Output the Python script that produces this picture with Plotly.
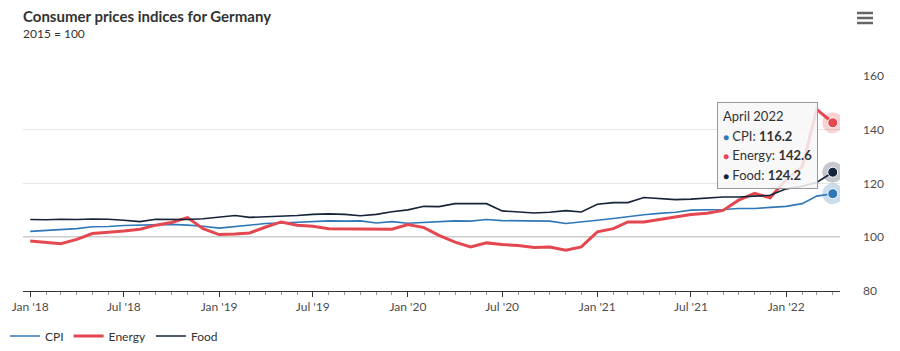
import pandas as pd
import plotly.graph_objects as go

# ---- data (2015 = 100), monthly Jan 2018 .. Apr 2022 ----
months = pd.date_range("2018-01-01", "2022-04-01", freq="MS")

cpi = [
    102.2, 102.5, 103.0, 103.2, 103.9, 104.0, 104.4, 104.5, 104.6, 104.8, 104.5, 104.1,
    103.4, 103.9, 104.4, 105.1, 105.3, 105.5, 105.9, 106.1, 106.0, 106.1, 105.3, 105.8,
    105.2, 105.6, 105.7, 106.1, 106.0, 106.6, 106.2, 106.1, 106.0, 106.0, 105.1, 105.6,
    106.3, 107.0, 107.7, 108.4, 108.9, 109.3, 110.1, 110.2, 110.3, 110.7, 110.7, 111.1,
    111.5, 112.5, 115.3, 116.2,
]
energy = [
    98.6, 98.2, 97.6, 99.2, 101.4, 101.9, 102.3, 103.0, 104.5, 105.5, 107.3, 103.2,
    101.0, 101.2, 101.6, 103.8, 105.7, 104.5, 104.1, 103.2, 103.2, 103.1, 103.1, 103.0,
    104.7, 103.6, 100.7, 98.2, 96.4, 97.9, 97.3, 96.9, 96.2, 96.4, 95.2, 96.4,
    102.0, 103.2, 105.7, 105.7, 106.6, 107.5, 108.5, 108.9, 110.0, 113.8, 116.3, 114.7,
    121.5, 126.2, 147.6, 142.6,
]
food = [
    106.6, 106.5, 106.7, 106.6, 106.8, 106.7, 106.3, 105.8, 106.7, 106.6, 106.6, 106.9,
    107.6, 108.1, 107.4, 107.6, 107.8, 108.1, 108.5, 108.7, 108.5, 108.0, 108.5, 109.5,
    110.2, 111.5, 111.4, 112.5, 112.5, 112.5, 109.8, 109.4, 109.0, 109.3, 109.9, 109.4,
    112.3, 112.9, 112.9, 114.8, 114.4, 114.0, 114.2, 114.5, 115.0, 115.0, 115.2, 115.6,
    118.0, 119.0, 120.4, 124.2,
]

series_names = ["CPI", "Energy", "Food"]
series_values = [cpi, energy, food]
series_colors = ["#2f78b7", "#e4474f", "#16243a"]
series_widths = [1.6, 3, 1.6]

y_ticks = [80, 100, 120, 140, 160]

FONT = "Lato, 'Open Sans', sans-serif"

fig = go.Figure()

for name, vals, col, w in zip(series_names, series_values, series_colors, series_widths):
    fig.add_trace(go.Scatter(
        x=months, y=vals, mode="lines", name=name,
        line=dict(color=col, width=w),
        hoverinfo="skip",
    ))

# hover halos on last point
for name, vals, col in zip(series_names, series_values, series_colors):
    fig.add_trace(go.Scatter(
        x=[months[-1]], y=[vals[-1]], mode="markers", showlegend=False,
        marker=dict(size=21, color=col, opacity=0.25, line=dict(width=0)),
        hoverinfo="skip",
    ))
    fig.add_trace(go.Scatter(
        x=[months[-1]], y=[vals[-1]], mode="markers", showlegend=False,
        marker=dict(size=10, color=col, line=dict(width=1, color="#ffffff")),
        hoverinfo="skip",
    ))

# reference line at 100
fig.add_shape(type="line", xref="paper", yref="y", x0=0, x1=1, y0=100, y1=100,
              line=dict(color="#333333", width=1), layer="below")

# tooltip
last_label = months[-1].strftime("%B %Y")
tip_lines = [f"<span style='font-size:13px'>{last_label}</span>"]
for name, vals, col in zip(series_names, series_values, series_colors):
    tip_lines.append(
        f"<span style='color:{col};font-size:10px'>●</span>"
        f"<span style='font-size:13px'> {name}: <b>{vals[-1]:.1f}</b></span>"
    )
fig.add_annotation(
    xref="paper", yref="paper",
    x=(818 - 23) / 817, y=(291 - 102) / 215,
    xanchor="right", yanchor="top",
    text="<br>".join(tip_lines), align="left", showarrow=False,
    font=dict(family=FONT, size=15, color="#333333"),
    bgcolor="rgba(247,247,247,0.85)", bordercolor="#999999", borderwidth=1,
    borderpad=5,
)

# subtitle
fig.add_annotation(
    xref="paper", yref="paper", x=-0.002, y=(291 - 34) / 215,
    xanchor="left", yanchor="middle", showarrow=False,
    text="2015 = 100", font=dict(family=FONT, size=12, color="#333333"),
)

# hamburger menu icon
for py in (13, 18, 23):
    fig.add_shape(type="line", xref="paper", yref="paper",
                  x0=(857 - 23) / 817, x1=(873 - 23) / 817,
                  y0=(291 - py) / 215, y1=(291 - py) / 215,
                  line=dict(color="#666666", width=2.5))

fig.update_layout(
    width=900, height=351,
    margin=dict(l=23, r=60, t=76, b=60, autoexpand=False),
    paper_bgcolor="#ffffff", plot_bgcolor="#ffffff",
    font=dict(family=FONT, size=12, color="#333333"),
    title=dict(
        text="<b>Consumer prices indices for Germany</b>",
        x=23 / 900, xref="container", xanchor="left",
        y=1 - 17 / 351, yref="container", yanchor="middle",
        font=dict(family=FONT, size=15, color="#333333"),
    ),
    showlegend=True,
    legend=dict(
        orientation="h", x=-0.022, xanchor="left",
        y=(291 - 336) / 215, yanchor="middle",
        font=dict(family=FONT, size=12, color="#333333"),
        bgcolor="rgba(0,0,0,0)",
    ),
    hovermode=False,
)

fig.update_xaxes(
    range=["2017-12-18", "2022-04-15"],
    tickformat="%b '%y", dtick="M6", tick0="2018-01-01",
    ticks="outside", ticklen=5, tickcolor="#333333", tickwidth=1,
    showline=True, linecolor="#333333", linewidth=1,
    showgrid=False, zeroline=False,
    tickfont=dict(family=FONT, size=12, color="#4d4d4d"),
    minor=dict(dtick="M1", tick0="2018-01-01", ticks="outside", ticklen=3,
               tickcolor="#999999", showgrid=False),
)
fig.update_yaxes(
    range=[80, 160], side="right", tickvals=y_ticks,
    showgrid=True, gridcolor="#e6e6e6", gridwidth=1,
    zeroline=False, showline=False, ticks="",
    ticklabelstandoff=22,
    tickfont=dict(family=FONT, size=12, color="#4d4d4d"),
)

fig.write_html("out.html")
